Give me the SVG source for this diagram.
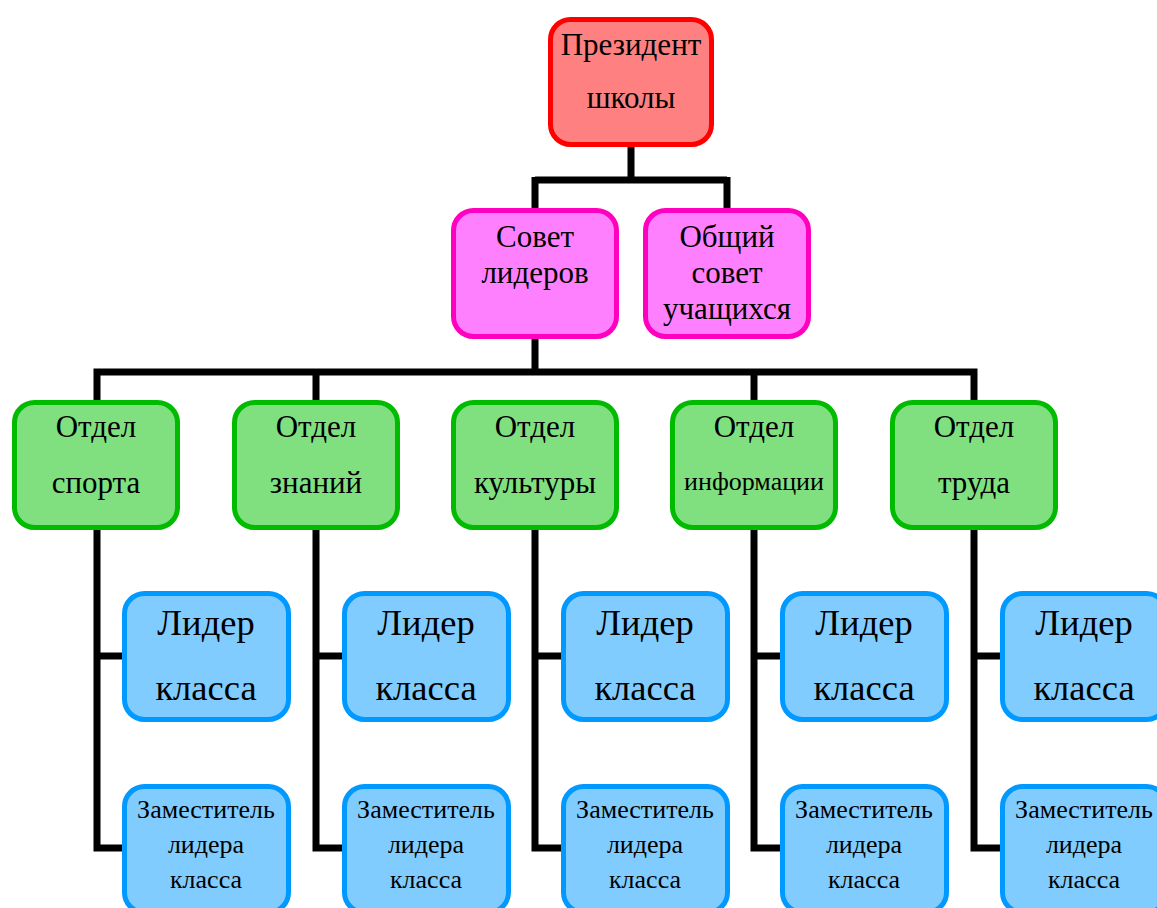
<svg xmlns="http://www.w3.org/2000/svg" width="1157" height="908" viewBox="0 0 1157 908">
<style>
text{font-family:"Liberation Serif","Times New Roman",serif;fill:#000;text-anchor:middle}
.red{fill:#FF8080;stroke:#FF0000;stroke-width:5}
.pink{fill:#FF80FF;stroke:#FF00C0;stroke-width:5}
.green{fill:#80E080;stroke:#00BB00;stroke-width:5}
.blue{fill:#80CCFF;stroke:#0099FF;stroke-width:5}
.c{fill:none;stroke:#000;stroke-width:7;stroke-linejoin:miter}
.t26{font-size:31px}
.t22{font-size:26px}
.t36{font-size:36.5px}
</style>
<g id="connectors">
<path class="c" d="M631,146 V180 M535,180 H727 M535,177 V210 M727,177 V210"/>
<path class="c" d="M535,338 V372 M97,402 V372 H974 V402 M316,372 V402 M754,372 V402"/>
<path class="c" d="M97,529 V848 H124 M97,656 H124"/>
<path class="c" d="M316,529 V848 H344 M316,656 H344"/>
<path class="c" d="M535,529 V848 H563 M535,656 H563"/>
<path class="c" d="M754,529 V848 H782 M754,656 H782"/>
<path class="c" d="M974,529 V848 H1002 M974,656 H1002"/>
</g>
<g id="president"><rect class="red" x="550.5" y="19.5" width="161" height="125" rx="20"/><text class="t26" x="631" y="55">Президент</text><text class="t26" x="631" y="108">школы</text></g>
<g id="sovet"><rect class="pink" x="453.5" y="210.5" width="163" height="126" rx="20"/><text class="t26" x="535" y="247">Совет</text><text class="t26" x="535" y="283">лидеров</text></g>
<g id="obshchiy"><rect class="pink" x="645.5" y="210.5" width="163" height="126" rx="20"/><text class="t26" x="727" y="247">Общий</text><text class="t26" x="727" y="283">совет</text><text class="t26" x="727" y="319">учащихся</text></g>
<g id="sport"><rect class="green" x="14.5" y="402.5" width="163" height="125" rx="20"/><text class="t26" x="96" y="437">Отдел</text><text class="t26" x="96" y="493">спорта</text></g>
<g id="znaniy"><rect class="green" x="234.5" y="402.5" width="163" height="125" rx="20"/><text class="t26" x="316" y="437">Отдел</text><text class="t26" x="316" y="493">знаний</text></g>
<g id="kultury"><rect class="green" x="453.5" y="402.5" width="163" height="125" rx="20"/><text class="t26" x="535" y="437">Отдел</text><text class="t26" x="535" y="493">культуры</text></g>
<g id="informatsii"><rect class="green" x="672.5" y="402.5" width="163" height="125" rx="20"/><text class="t26" x="754" y="437">Отдел</text><text class="t22" x="754" y="490">информации</text></g>
<g id="truda"><rect class="green" x="892.5" y="402.5" width="163" height="125" rx="20"/><text class="t26" x="974" y="437">Отдел</text><text class="t26" x="974" y="493">труда</text></g>
<g id="lider1"><rect class="blue" x="124.5" y="593.5" width="164" height="126" rx="20"/><text class="t36" x="206" y="635">Лидер</text><text class="t36" x="206" y="700">класса</text></g>
<g id="zam1"><rect class="blue" x="124.5" y="786.5" width="164" height="126" rx="20"/><text class="t22" x="206" y="818">Заместитель</text><text class="t22" x="206" y="853">лидера</text><text class="t22" x="206" y="888">класса</text></g>
<g id="lider2"><rect class="blue" x="344.5" y="593.5" width="164" height="126" rx="20"/><text class="t36" x="426" y="635">Лидер</text><text class="t36" x="426" y="700">класса</text></g>
<g id="zam2"><rect class="blue" x="344.5" y="786.5" width="164" height="126" rx="20"/><text class="t22" x="426" y="818">Заместитель</text><text class="t22" x="426" y="853">лидера</text><text class="t22" x="426" y="888">класса</text></g>
<g id="lider3"><rect class="blue" x="563.5" y="593.5" width="164" height="126" rx="20"/><text class="t36" x="645" y="635">Лидер</text><text class="t36" x="645" y="700">класса</text></g>
<g id="zam3"><rect class="blue" x="563.5" y="786.5" width="164" height="126" rx="20"/><text class="t22" x="645" y="818">Заместитель</text><text class="t22" x="645" y="853">лидера</text><text class="t22" x="645" y="888">класса</text></g>
<g id="lider4"><rect class="blue" x="782.5" y="593.5" width="164" height="126" rx="20"/><text class="t36" x="864" y="635">Лидер</text><text class="t36" x="864" y="700">класса</text></g>
<g id="zam4"><rect class="blue" x="782.5" y="786.5" width="164" height="126" rx="20"/><text class="t22" x="864" y="818">Заместитель</text><text class="t22" x="864" y="853">лидера</text><text class="t22" x="864" y="888">класса</text></g>
<g id="lider5"><rect class="blue" x="1002.5" y="593.5" width="164" height="126" rx="20"/><text class="t36" x="1084" y="635">Лидер</text><text class="t36" x="1084" y="700">класса</text></g>
<g id="zam5"><rect class="blue" x="1002.5" y="786.5" width="164" height="126" rx="20"/><text class="t22" x="1084" y="818">Заместитель</text><text class="t22" x="1084" y="853">лидера</text><text class="t22" x="1084" y="888">класса</text></g>
</svg>
